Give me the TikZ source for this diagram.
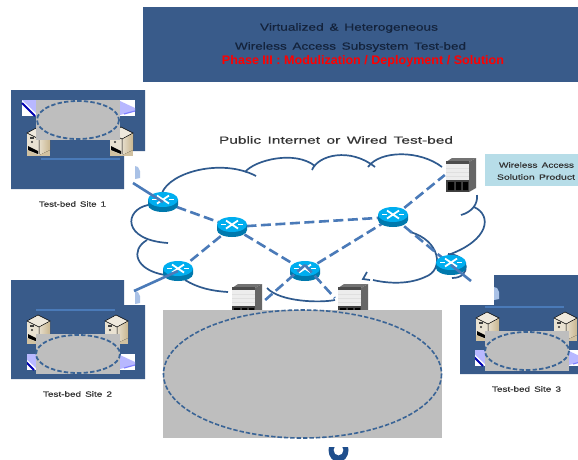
\documentclass[tikz,border=0pt]{standalone}
\usepackage{graphicx}
\usepackage{fontspec}
\setmainfont{Liberation Sans}
\newfontfamily\widefont[FakeBold=0.25]{Liberation Sans}
\definecolor{panel}{HTML}{395B8A}
\definecolor{grayzone}{HTML}{BEBEBE}
\definecolor{ringc}{HTML}{3A6496}
\definecolor{linkc}{HTML}{4A7AB8}
\definecolor{cloudc}{HTML}{2F5A8E}
\definecolor{titlec}{HTML}{14233C}
\definecolor{labelc}{HTML}{333333}
\definecolor{prod}{HTML}{B7DDE8}
\definecolor{rtop}{HTML}{00AEEF}
\definecolor{rside}{HTML}{0079AD}
\definecolor{tanc}{HTML}{C9B68F}
\definecolor{tabc}{HTML}{A9C1E6}
\definecolor{blobc}{HTML}{1F4E8C}
\newcommand{\stxt}[3]{\resizebox{#1pt}{#2pt}{\widefont\spaceskip=.42em #3}}
\newcommand{\rtxt}[3]{\resizebox{#1pt}{#2pt}{\bfseries #3}}
\tikzset{
  panelshape/.style={fill=panel,draw=none},
  zone/.style={fill=grayzone,draw=none},
  ring/.style={draw=ringc,line width=1.8pt,dash pattern=on 4.4pt off 2.2pt},
  bigring/.style={draw=ringc,line width=1.6pt,dash pattern=on 4.4pt off 2pt},
  cloudarc/.style={draw=cloudc,line width=1.7pt},
  dashlink/.style={draw=linkc,line width=2.6pt,dash pattern=on 10pt off 4.5pt},
  solidlink/.style={draw=linkc,line width=2.6pt},
  lanbar/.style={draw=linkc,line width=2.4pt},
  txt/.style={inner sep=0pt,text=labelc},
  anchorbox/.style={inner sep=0pt,minimum width=#1,minimum height=34pt},
  router/.pic={
    \fill[rside] (-15,-2.5) -- (-15,3) arc[x radius=15,y radius=7,start angle=180,end angle=0] -- (15,-2.5) -- cycle;
    \fill[rtop] (0,-2.5) ellipse[x radius=15,y radius=7.5];
    \draw[white,line width=1.8pt] (-6,-6.5) -- (6,1.5) (-6,1.5) -- (6,-6.5);
    \draw[white,line width=1.5pt] (-11,-2.5) -- (-6,-2.5) (6,-2.5) -- (11,-2.5);
  },
  server/.pic={
    \fill[tanc!85] (-4,9) -- (19,9) -- (19,16) -- (-4,16) -- cycle;
    \fill[left color=tanc!45!white,right color=tanc] (8,-1) -- (19,-7) -- (19,10) -- (8,15) -- cycle;
    \fill[tanc!30!white] (-4,-7) -- (8,-1) -- (19,-7) -- (7,-13) -- cycle;
    \fill[tanc!40!white] (-4,-7) -- (8,-1) -- (8,15) -- (-4,10) -- cycle;
    \fill[black] (-3,6) -- (7,11) -- (7,14) -- (-3,10) -- cycle;
    \fill[black!75] (-1,-3) rectangle (3,-1);
    \fill[black!80] (1,2) circle (1.1);
    \draw[black,line width=.5pt] (-4,-7) -- (7,-13) -- (19,-7) -- (8,-1) -- cycle (8,-1) -- (8,14);
  },
  chassis/.pic={
    \fill[black!55] (-15,-13) -- (-9,-17) -- (15,-17) -- (8,-13) -- cycle;
    \fill[black!60] (8,-13) -- (15,-17) -- (15,13) -- (8,17) -- cycle;
    \fill[black!70] (-15,-14) rectangle (8,-11);
    \fill[white!93!black] (-15,-11) rectangle (8,5);
    \fill[black!75] (-15,5) rectangle (8,17);
    \fill[black] (-13,7) rectangle (-7,15) (-5,7) rectangle (0,15) (2,7) rectangle (7,15);
    \draw[black!12,line width=.3pt] (-15,-7) -- (8,-7) (-15,-3) -- (8,-3) (-15,1) -- (8,1);
  },
  padl/.pic={
    \fill[white] (0,0) rectangle (15,16);
    \fill[blue!28!white] (0,0) -- (15,0) -- (15,14) -- cycle;
    \draw[blue!70!black,line width=1.8pt] (0,3) -- (13,16);
  },
  padr/.pic={
    \fill[white] (0,0) rectangle (15,16);
    \fill[blue!28!white] (0,1) -- (15,8) -- (15,11) -- (0,15) -- cycle;
    \draw[blue!50!white,line width=1.2pt] (15,11) -- (4,14);
  },
  tab/.pic={
    \fill[tabc] (0,0) -- (3,1) -- (5,5) -- (5,12) -- (0,13) -- cycle;
  }
}
\begin{document}
\begin{tikzpicture}[x=1pt,y=-1pt]
\useasboundingbox (0,0) rectangle (578,459);
\fill[white] (0,0) rectangle (578,459);

% title
\fill[panelshape] (143,7) rectangle (578,82);
\node[txt,text=titlec] (t1) at (349,28) {\stxt{178}{7.5}{Virtualized \& Heterogeneous}};
\node[txt,text=titlec] (t2) at (350.5,47) {\stxt{231}{7.5}{Wireless Access Subsystem Test-bed}};
\node[txt,text=red] (t3) at (363,61) {\rtxt{282}{9}{Phase III : Modulization / Deployment / Solution}};

% site 1
\fill[panelshape] (11,90) -- (145,90) -- (145,151) -- (124,151) -- (124,189) -- (11,189) -- cycle;
\pic at (22,100) {padl};
\pic at (120,100) {padr};
\pic at (31,140) {server};
\pic at (114,140) {server};
\fill[zone] (36,100) rectangle (120,140);
\draw[ring] (78,120) ellipse[x radius=41,y radius=19];
\coordinate (s1a) at (41,159);
\coordinate (s1b) at (120,159);
\draw[lanbar] (s1a) -- (s1b);
\pic at (135,166) {tab};
\node[txt] (l1) at (72.5,204) {\stxt{67}{5.5}{Test-bed Site 1}};

% site 2
\fill[panelshape] (11,280) -- (124,280) -- (124,305) -- (145,305) -- (145,379) -- (11,379) -- cycle;
\pic at (31,328) {server};
\pic at (109,328) {server};
\begin{scope}
\clip (27,350) rectangle (40,372);
\pic at (21,354) {padl};
\end{scope}
\pic at (120,354) {padr};
\fill[zone] (36,334) rectangle (120,374);
\draw[ring] (78,354) ellipse[x radius=42,y radius=19];
\coordinate (s2a) at (36,310);
\coordinate (s2b) at (115,310);
\draw[lanbar] (s2a) -- (s2b);
\pic at (135,291) {tab};
\node[txt] (l2) at (77.5,394) {\stxt{69}{5.5}{Test-bed Site 2}};

% site 3
\fill[panelshape] (494,275) -- (578,275) -- (578,374) -- (460,374) -- (460,305) -- (494,305) -- cycle;
\pic at (480,325) {server};
\pic at (558,325) {server};
\begin{scope}
\clip (475,348) rectangle (490,368);
\pic at (470,350) {padl};
\end{scope}
\begin{scope}
\clip (569,340) rectangle (578,370);
\pic at (569,350) {padr};
\end{scope}
\fill[zone] (485,331) rectangle (569,371);
\draw[ring] (527,351) ellipse[x radius=42,y radius=19];
\coordinate (s3a) at (485,306.7);
\coordinate (s3b) at (564,306.7);
\draw[lanbar] (s3a) -- (s3b);
\pic at (494,287) {tab};
\node[txt] (l3) at (526.5,389) {\stxt{69}{5.5}{Test-bed Site 3}};

% chassis partly hidden by the central zone
\node[anchorbox=32pt] (sw1) at (247,301) {};
\node[anchorbox=32pt] (sw2) at (353,301) {};
\pic at (sw1) {chassis};
\pic at (sw2) {chassis};

% central zone
\fill[zone] (163,310) rectangle (442,438);
\draw[bigring] (302.5,374) ellipse[x radius=139,y radius=64];
\begin{scope}
\clip (320,447) rectangle (356,459);
\fill[blobc,even odd rule] (338.5,450) ellipse[x radius=10,y radius=12] (338.5,450) ellipse[x radius=5,y radius=5.5];
\end{scope}

% cloud
\draw[cloudarc] (162,193) .. controls (170,172) and (222,158) .. (256,176);
\draw[cloudarc] (245,172) .. controls (255,160) and (295,150) .. (315,166);
\draw[cloudarc] (312,170) .. controls (318,155) and (350,147) .. (375,167);
\draw[cloudarc] (368,167) .. controls (380,150) and (420,150) .. (442,167);
\draw[cloudarc] (477,195) .. controls (478,204) and (472,212) .. (461,215);
\draw[cloudarc] (474,207) .. controls (492,215) and (490,240) .. (448,255);
\draw[cloudarc] (448,254) .. controls (470,255) and (472,278) .. (452,278);
\draw[cloudarc] (410,232) .. controls (440,240) and (445,270) .. (425,277) .. controls (410,284) and (390,284) .. (373,280);
\draw[cloudarc] (367,272) -- (363,279) -- (370,280);
\draw[cloudarc] (148,205) .. controls (124,210) and (122,240) .. (168,243);
\draw[cloudarc] (147,240) .. controls (130,250) and (135,270) .. (165,275);
\draw[cloudarc] (185,280) .. controls (198,288) and (212,291) .. (228,292);
\draw[cloudarc] (267,288) .. controls (280,302) and (320,303) .. (335,300);

% equipment anchors
\coordinate (r1) at (163,202);
\coordinate (r2) at (232,227);
\coordinate (r3) at (178,271);
\coordinate (r4) at (305,271);
\coordinate (r5) at (393,217);
\coordinate (r6) at (451,265);
\node[anchorbox=32pt] (sw3) at (461,175) {};
\coordinate (c1) at (133,183);
\coordinate (c2) at (134,291);
\coordinate (c6) at (471,281);

% dashed links
\draw[dashlink] (r1) -- (r2);
\draw[dashlink] (r2) -- (r3);
\draw[dashlink] (r2) -- (r5);
\draw[dashlink] (r2) -- (r4);
\draw[dashlink] (r4) -- (r5);
\draw[dashlink] (r5) -- (sw3.west);
\draw[dashlink] (r5) -- (r6);

\pic at (r1) {router};
\pic at (r2) {router};
\pic at (r3) {router};
\pic at (r4) {router};
\pic at (r5) {router};
\pic at (r6) {router};
\pic at (sw3) {chassis};

\draw[dashlink] ([yshift=6pt]r4) -- ([shift={(2,-1)}]sw1.east);
\draw[dashlink] ([yshift=6pt]r4) -- ([shift={(-2,-3)}]sw2.west);
\draw[solidlink] (c1) -- (r1);
\draw[solidlink] (c2) -- (r3);
\draw[solidlink] (r6) -- (c6);

% labels
\node[txt] (pub) at (336,140) {\stxt{234}{7.5}{Public Internet or Wired Test-bed}};
\fill[prod] (485,154) rectangle (578,186);
\node[txt] (p1) at (536.5,165) {\stxt{75}{5.5}{Wireless Access}};
\node[txt] (p2) at (536,177) {\stxt{78}{5.5}{Solution Product}};
\end{tikzpicture}
\end{document}
